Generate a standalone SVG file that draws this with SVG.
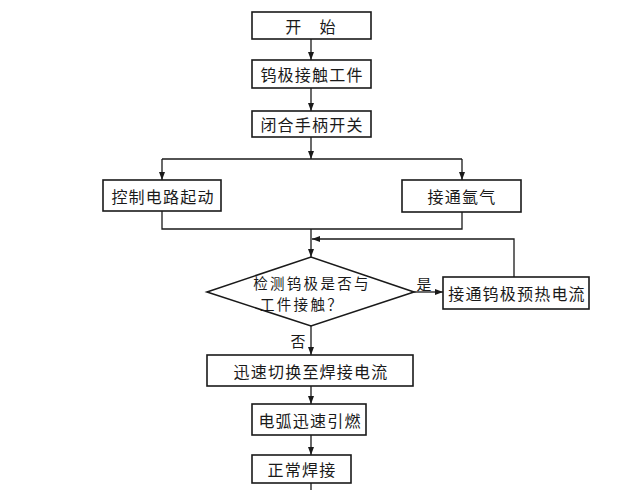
<svg xmlns="http://www.w3.org/2000/svg" width="642" height="490" viewBox="0 0 642 490">
<style>
.box{fill:#fff;stroke:#1a1a1a;stroke-width:1.6}
.ln{fill:none;stroke:#1a1a1a;stroke-width:1.3}
.t{font-family:"Noto Sans CJK SC","Noto Sans",sans-serif;font-size:16px;fill:#1a1a1a;text-anchor:middle;dominant-baseline:central;letter-spacing:1.2px}
.d{font-size:14.5px;letter-spacing:2.3px}
.lb{font-family:"Noto Sans CJK SC","Noto Sans",sans-serif;font-size:15px;fill:#1a1a1a;text-anchor:middle;dominant-baseline:central}
</style>
<defs>
<marker id="ah" viewBox="0 0 8 6" refX="8" refY="3" markerWidth="8" markerHeight="6" markerUnits="userSpaceOnUse" orient="auto">
<path d="M0,0 L8,3 L0,6 Z" fill="#1a1a1a"/>
</marker>
</defs>
<rect width="642" height="490" fill="#fff"/>
<g id="connectors">
<line class="ln" x1="311" y1="39" x2="311" y2="60" marker-end="url(#ah)"/>
<line class="ln" x1="311" y1="88" x2="311" y2="111" marker-end="url(#ah)"/>
<line class="ln" x1="311" y1="137" x2="311" y2="159" marker-end="url(#ah)"/>
<line class="ln" x1="162" y1="159" x2="462" y2="159"/>
<path class="ln" d="M162,159 V180" marker-end="url(#ah)"/>
<path class="ln" d="M462,159 V180" marker-end="url(#ah)"/>
<path class="ln" d="M162,211 V229 H462 V212"/>
<path class="ln" d="M311,229 V257" marker-end="url(#ah)"/>
<path class="ln" d="M514,277 V239 H312" marker-end="url(#ah)"/>
<path class="ln" d="M414,292 H443" marker-end="url(#ah)" stroke-width="2"/>
<path class="ln" d="M311,326 V355" marker-end="url(#ah)"/>
<path class="ln" d="M311,386 V404" marker-end="url(#ah)"/>
<path class="ln" d="M311,435 V455" marker-end="url(#ah)"/>
<path class="ln" d="M311,483 V490"/>
<text class="lb" x="424" y="283">是</text>
<text class="lb" x="298" y="340">否</text>
</g>
<g id="start"><rect class="box" x="252" y="12" width="119" height="27"/><text class="t" x="311" y="25.5" letter-spacing="0">开　始</text></g>
<g id="contact"><rect class="box" x="252" y="60" width="119" height="28"/><text class="t" x="312" y="74">钨极接触工件</text></g>
<g id="switch"><rect class="box" x="252" y="111" width="119" height="26"/><text class="t" x="312" y="124">闭合手柄开关</text></g>
<g id="circuit"><rect class="box" x="103" y="180" width="118" height="31"/><text class="t" x="163" y="195.5">控制电路起动</text></g>
<g id="argon"><rect class="box" x="402" y="180" width="119" height="32"/><text class="t" x="462" y="196">接通氩气</text></g>
<g id="check"><polygon class="box" points="207,292 311,257 414,292 311,326"/><text class="t d"><tspan x="312" y="282">检测钨极是否与</tspan><tspan x="302" y="303">工件接触？</tspan></text></g>
<g id="preheat"><rect class="box" x="443" y="277" width="146" height="32"/><text class="t" x="517" y="293">接通钨极预热电流</text></g>
<g id="switchcur"><rect class="box" x="207" y="355" width="206" height="31"/><text class="t" x="311" y="370.5" letter-spacing="3">迅速切换至焊接电流</text></g>
<g id="ignite"><rect class="box" x="252" y="404" width="114" height="31"/><text class="t" x="310" y="419.5">电弧迅速引燃</text></g>
<g id="weld"><rect class="box" x="252" y="455" width="99" height="28"/><text class="t" x="302" y="469">正常焊接</text></g>
</svg>
